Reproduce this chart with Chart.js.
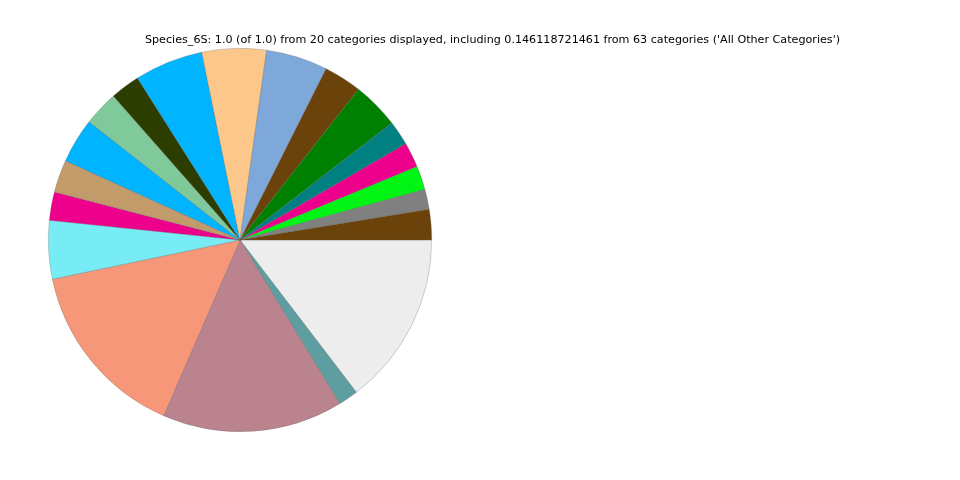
<!DOCTYPE html>
<html>
<head>
<meta charset="utf-8">
<script src="https://cdn.jsdelivr.net/npm/chart.js@4"></script>
<style>
    html, body { margin: 0; padding: 0; background: #fff; }
    #wrap { width: 960px; height: 480px; position: relative; }
</style>
</head>
<body>
<div id="wrap"><canvas id="pieChart" width="960" height="480"></canvas></div>
<script>
// slice order as in the reference (counter-clockwise from 3 o'clock)
const categories = [
    'Taxon 1', 'Taxon 2', 'Taxon 3', 'Taxon 4', 'Taxon 5',
    'Taxon 6', 'Taxon 7', 'Taxon 8', 'Taxon 9', 'Taxon 10',
    'Taxon 11', 'Taxon 12', 'Taxon 13', 'Taxon 14', 'Taxon 15',
    'Taxon 16', 'Taxon 17', 'Taxon 18', 'Taxon 19', 'All Other Categories'
];
const fractions = [
    0.0256, 0.0169, 0.0200, 0.0211, 0.0208,
    0.0394, 0.0319, 0.0519, 0.0542, 0.0578,
    0.0250, 0.0294, 0.0378, 0.0275, 0.0239,
    0.0492, 0.1519, 0.1522, 0.0167, 0.1461
];
const sliceColors = [
    '#6b430a', '#808080', '#00f514', '#ec008c', '#008080',
    '#008000', '#6b430a', '#7ea8d9', '#fcc78a', '#00b4ff',
    '#2c3d00', '#80c99a', '#00b4ff', '#c29b6b', '#ec008c',
    '#78ecf4', '#f7977a', '#bb838e', '#5f9ea0', '#ededed'
];
const titleText = "Species_6S: 1.0 (of 1.0) from 20 categories displayed, including 0.146118721461 from 63 categories ('All Other Categories')";

// Chart.js goes clockwise, so reverse to get the counter-clockwise order
const labelsCw = categories.slice().reverse();
const dataCw = fractions.slice().reverse();
const colorsCw = sliceColors.slice().reverse();

// draw the title like the matplotlib one
const titlePlugin = {
    id: 'topTitle',
    afterDraw(chart) {
        const ctx = chart.ctx;
        ctx.save();
        ctx.font = '11.15px "DejaVu Sans"';
        ctx.fillStyle = '#000';
        ctx.textAlign = 'center';
        ctx.textBaseline = 'middle';
        ctx.fillText(titleText, 492.5, 40);
        ctx.restore();
    }
};

const ctx = document.getElementById('pieChart').getContext('2d');
new Chart(ctx, {
    type: 'pie',
    data: {
        labels: labelsCw,
        datasets: [{
            data: dataCw,
            backgroundColor: colorsCw,
            borderColor: 'rgba(90,90,90,0.45)',
            borderWidth: 0.6,
            hoverOffset: 0
        }]
    },
    options: {
        responsive: false,
        animation: false,
        rotation: 90,
        layout: {
            padding: { left: 48, top: 48, right: 528, bottom: 48 }
        },
        plugins: {
            legend: { display: false },
            tooltip: { enabled: false },
            title: { display: false }
        }
    },
    plugins: [titlePlugin]
});
</script>
</body>
</html>
